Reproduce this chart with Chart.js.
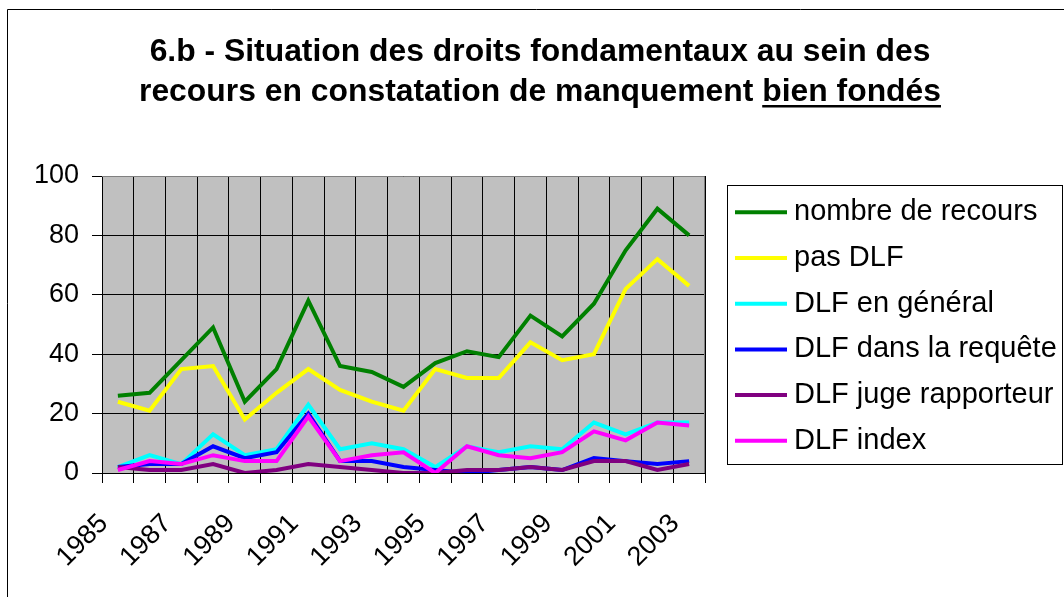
<!DOCTYPE html>
<html>
<head>
<meta charset="utf-8">
<script src="https://cdn.jsdelivr.net/npm/chart.js@4/dist/chart.umd.min.js"></script>
<style>
  html, body { margin: 0; padding: 0; background: #ffffff; }
  #wrap { width: 1064px; height: 597px; position: relative; }
</style>
</head>
<body>
<div id="wrap"><canvas id="c" width="1064" height="597"></canvas></div>
<script>
const years = ['1985','1986','1987','1988','1989','1990','1991','1992','1993','1994',
               '1995','1996','1997','1998','1999','2000','2001','2002','2003'];
const nombreRecours = [26, 27, 38, 49, 24, 35, 58, 36, 34, 29, 37, 41, 39, 53, 46, 57, 75, 89, 80];
const pasDLF        = [24, 21, 35, 36, 18, 27, 35, 28, 24, 21, 35, 32, 32, 44, 38, 40, 62, 72, 63];
const dlfGeneral    = [ 2,  6,  3, 13,  6,  8, 23,  8, 10,  8,  2,  9,  7,  9,  8, 17, 13, 17, 17];
const dlfRequete    = [ 2,  3,  3,  9,  5,  7, 20,  4,  4,  2,  1,  0,  1,  2,  1,  5,  4,  3,  4];
const dlfJuge       = [ 2,  1,  1,  3,  0,  1,  3,  2,  1,  0,  0,  1,  1,  2,  1,  4,  4,  1,  3];
const dlfIndex      = [ 1,  4,  3,  6,  4,  4, 19,  4,  6,  7,  0,  9,  6,  5,  7, 14, 11, 17, 16];
const yTicks = [0, 20, 40, 60, 80, 100];

const titleLine1 = '6.b - Situation des droits fondamentaux au sein des';
const titleLine2a = 'recours en constatation de manquement ';
const titleLine2b = 'bien fondés';

const FONT = '"Liberation Sans", Arial, "DejaVu Sans", sans-serif';

function ds(label, data, color, order) {
  return { label, data, borderColor: color, backgroundColor: color, borderWidth: 4,
           pointRadius: 0, pointHoverRadius: 0, tension: 0, fill: false, order,
           borderJoinStyle: 'miter', borderCapStyle: 'butt' };
}

const chromePlugin = {
  id: 'chrome',
  beforeDraw(chart) {
    const ctx = chart.ctx, a = chart.chartArea;
    ctx.save();
    ctx.fillStyle = '#ffffff';
    ctx.fillRect(0, 0, chart.width, chart.height);
    ctx.fillStyle = '#c0c0c0';
    ctx.fillRect(a.left, a.top, a.right - a.left, a.bottom - a.top);
    ctx.strokeStyle = '#000000';
    ctx.lineWidth = 1;
    ctx.beginPath();
    ctx.moveTo(7.5, chart.height + 1);
    ctx.lineTo(7.5, 9.5);
    ctx.lineTo(chart.width + 1, 9.5);
    ctx.stroke();
    ctx.restore();
  },
  beforeDatasetsDraw(chart) {
    const ctx = chart.ctx, a = chart.chartArea;
    ctx.save();
    ctx.strokeStyle = '#808080';
    ctx.lineWidth = 1;
    ctx.beginPath();
    ctx.moveTo(a.left, Math.round(a.top) + 0.5);
    ctx.lineTo(Math.round(a.right) - 0.5, Math.round(a.top) + 0.5);
    ctx.lineTo(Math.round(a.right) - 0.5, a.bottom);
    ctx.stroke();
    ctx.restore();
  },
  afterDraw(chart) {
    const ctx = chart.ctx;
    ctx.save();
    ctx.fillStyle = '#000000';
    ctx.font = 'bold 31px ' + FONT;
    ctx.textBaseline = 'alphabetic';
    ctx.textAlign = 'left';
    const w1 = ctx.measureText(titleLine1).width;
    const w2a = ctx.measureText(titleLine2a).width;
    const w2b = ctx.measureText(titleLine2b).width;
    const w2 = w2a + w2b;
    const sx = 802 / w2;
    const cx = 540;
    ctx.save();
    ctx.translate(cx, 0);
    ctx.scale(sx, 1);
    ctx.fillText(titleLine1, -w1 / 2, 61);
    ctx.fillText(titleLine2a, -w2 / 2, 101);
    ctx.fillText(titleLine2b, -w2 / 2 + w2a, 101);
    ctx.restore();
    const ux0 = cx + (-w2 / 2 + w2a) * sx;
    const ux1 = cx + (w2 / 2) * sx;
    ctx.fillRect(ux0, 105, ux1 - ux0, 2.5);

    const lx = 727.5, ly = 185.5, lw = 335, lh = 279;
    ctx.strokeStyle = '#000000';
    ctx.lineWidth = 1;
    ctx.strokeRect(lx, ly, lw, lh);
    ctx.font = '29px ' + FONT;
    chart.data.datasets.forEach((d, i) => {
      const y = 212.3 + 45.7 * i;
      ctx.strokeStyle = d.borderColor;
      ctx.lineWidth = 4;
      ctx.beginPath();
      ctx.moveTo(735, y);
      ctx.lineTo(787, y);
      ctx.stroke();
      ctx.fillStyle = '#000000';
      ctx.fillText(d.label, 794, y + 8);
    });
    ctx.restore();
  }
};

const chart = new Chart(document.getElementById('c'), {
  type: 'line',
  data: {
    labels: years,
    datasets: [
      ds('nombre de recours', nombreRecours, '#008000', 6),
      ds('pas DLF', pasDLF, '#ffff00', 5),
      ds('DLF en général', dlfGeneral, '#00ffff', 4),
      ds('DLF dans la requête', dlfRequete, '#0000ff', 3),
      ds('DLF juge rapporteur', dlfJuge, '#800080', 2),
      ds('DLF index', dlfIndex, '#ff00ff', 1)
    ]
  },
  options: {
    responsive: false,
    animation: false,
    devicePixelRatio: 1,
    layout: { padding: { top: 176, right: 359, bottom: 0, left: 0 } },
    plugins: {
      legend: { display: false },
      title: { display: false },
      tooltip: { enabled: false }
    },
    scales: {
      x: {
        type: 'category',
        offset: true,
        afterFit(s) { s.height = 124; },
        grid: { display: true, offset: true, color: '#000000', lineWidth: 1,
                drawTicks: true, tickLength: 10, tickColor: '#000000' },
        border: { display: true, color: '#000000', width: 1 },
        ticks: {
          autoSkip: false, maxRotation: 45, minRotation: 45,
          padding: 25, labelOffset: -14,
          color: '#000000', font: { family: FONT, size: 27 },
          callback(v, i) { return i % 2 === 0 ? this.getLabelForValue(v) : ''; }
        }
      },
      y: {
        min: 0, max: 100,
        afterFit(s) { s.width = 102; },
        afterBuildTicks(s) { s.ticks = yTicks.map(v => ({ value: v })); },
        grid: { color: '#000000', lineWidth: 1, drawTicks: true, tickLength: 10, tickColor: '#000000' },
        border: { display: true, color: '#000000', width: 1 },
        ticks: { padding: 13, color: '#000000', font: { family: FONT, size: 27 } }
      }
    }
  },
  plugins: [chromePlugin]
});
</script>
</body>
</html>
